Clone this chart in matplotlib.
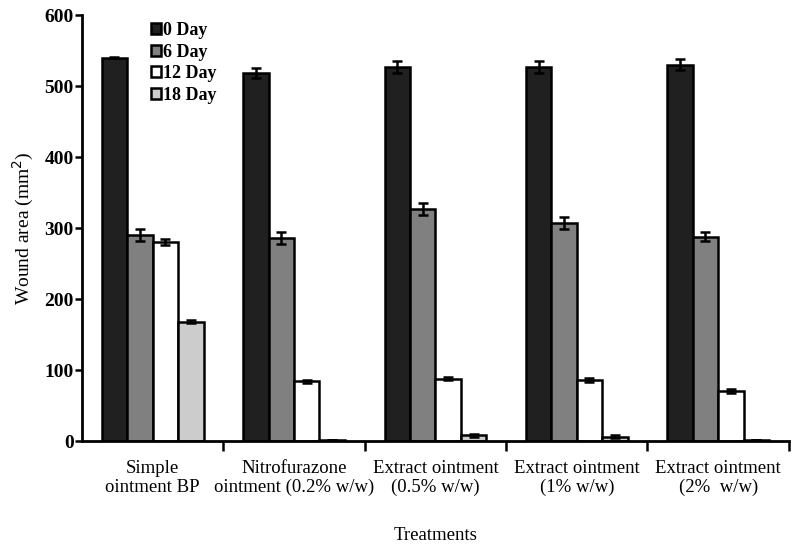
import numpy as np
import matplotlib
matplotlib.use("Agg")
import matplotlib.pyplot as plt

plt.rcParams['font.family'] = ['Liberation Serif', 'DejaVu Serif']

treatments = ["Simple\nointment BP", "Nitrofurazone\nointment (0.2% w/w)",
              "Extract ointment\n(0.5% w/w)", "Extract ointment\n(1% w/w)",
              "Extract ointment\n(2%  w/w)"]
days = ["0 Day", "6 Day", "12 Day", "18 Day"]

day0 = [540, 518, 527, 527, 530]
day6 = [290, 286, 327, 307, 288]
day12 = [280, 84, 88, 86, 70]
day18 = [168, 1, 8, 6, 1]

err0 = [1, 7, 8, 8, 8]
err6 = [9, 8, 8, 9, 6]
err12 = [4, 2, 2, 3, 3]
err18 = [2, 0, 2, 2, 0]

colors = ["#202020", "#808080", "#ffffff", "#cccccc"]

fig = plt.figure(figsize=(7.92, 5.46), dpi=100)
ax = fig.add_axes([0.1035, 0.1923, 0.8925, 0.7802])

x = np.arange(len(treatments))
w = 0.18
series = [day0, day6, day12, day18]
errs = [err0, err6, err12, err18]
for i, (vals, e) in enumerate(zip(series, errs)):
    pos = x + (i - 1.5) * w
    ax.bar(pos, vals, width=w, color=colors[i], edgecolor="black",
           linewidth=1.8, label=days[i], zorder=2)
    ax.errorbar(pos, vals, yerr=e, fmt="none", ecolor="black",
                elinewidth=1.8, capsize=3.5, capthick=1.8, zorder=3)

ax.set_xlim(-0.5, 4.5)
ax.set_ylim(0, 600)
ax.set_yticks(range(0, 601, 100))
ax.set_yticklabels([str(v) for v in range(0, 601, 100)], fontsize=14,
                   fontweight="bold")
ax.set_xticks(x + 0.5)
ax.set_xticklabels([])
ax.set_xticks(x, minor=True)
ax.set_xticklabels(treatments, minor=True, fontsize=13.5, linespacing=1.1)
ax.tick_params(axis="x", which="minor", length=0, pad=14)
ax.tick_params(axis="x", which="major", length=7, width=1.8, direction="out")
ax.tick_params(axis="y", length=5, width=1.8, direction="out", pad=1)

for s in ["top", "right"]:
    ax.spines[s].set_visible(False)
for s in ["left", "bottom"]:
    ax.spines[s].set_linewidth(2)

ax.set_ylabel("Wound area (mm$^2$)", fontsize=14, labelpad=6)
ax.set_xlabel("Treatments", fontsize=13.5, labelpad=22)

ax.legend(loc="upper left", bbox_to_anchor=(0.085, 1.005), frameon=False,
          prop={"size": 13, "weight": "bold"}, handlelength=0.55,
          handleheight=0.55, handletextpad=0.12, labelspacing=0.26,
          borderpad=0)

fig.savefig("out.png", dpi=100)
